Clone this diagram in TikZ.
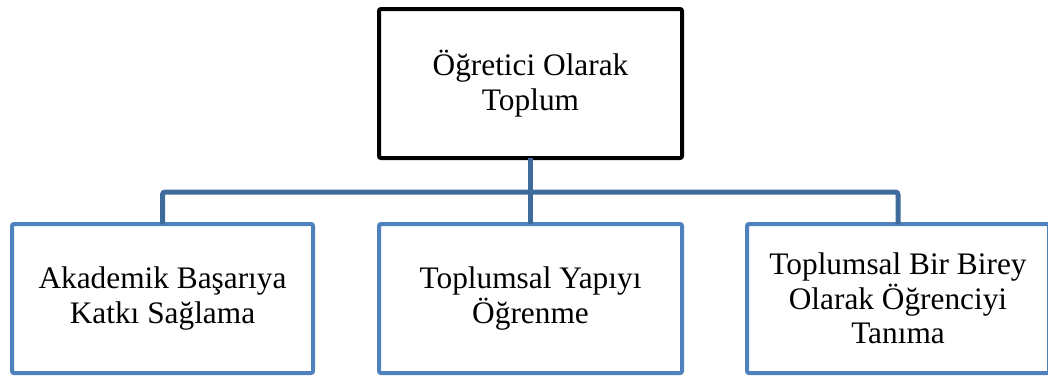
\documentclass[tikz,border=0pt]{standalone}
\usepackage{fontspec}
\setmainfont{Liberation Serif}
\definecolor{boxblue}{HTML}{4F81BD}
\definecolor{linkblue}{HTML}{3F6A9C}
\begin{document}
\begin{tikzpicture}[x=0.75pt,y=-0.75pt,
  every node/.style={inner sep=0pt,outer sep=0pt},
  topbox/.style={draw=black,line width=3pt,rounded corners=1.5pt,fill=white,
    minimum width=227.25pt,minimum height=111.75pt,align=center,
    font=\fontsize{23.5}{26}\selectfont},
  childbox/.style={draw=boxblue,line width=3pt,rounded corners=1.5pt,fill=white,
    minimum height=111.75pt,align=center,
    font=\fontsize{23.5}{26}\selectfont},
  link/.style={draw=linkblue,line width=3.75pt,rounded corners=2pt}]
\useasboundingbox (0,0) rectangle (1048,376);
\fill[white] (0,0) rectangle (1048,376);
\coordinate (j) at (530.5,192);
\node[topbox] (top) at (530.5,83.5) {Öğretici Olarak\\Toplum};
\node[childbox,minimum width=225.75pt] (a) at (162.5,298.5) {Akademik Başarıya\\Katkı Sağlama};
\node[childbox,minimum width=227.25pt] (b) at (530.5,298.5) {Toplumsal Yapıyı\\Öğrenme};
\node[childbox,minimum width=226.5pt] (c) at (898,298.5) {Toplumsal Bir Birey\\Olarak Öğrenciyi\\Tanıma};
\draw[link] (top.south) -- (j);
\draw[link] (j) -| (a.north);
\draw[link] (j) -| (c.north);
\draw[link] (j) -- (b.north);
\end{tikzpicture}
\end{document}
